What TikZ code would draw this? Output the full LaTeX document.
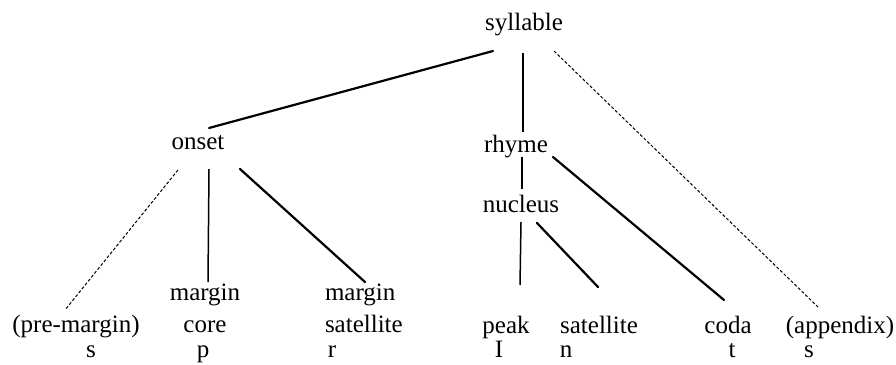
\documentclass[tikz,border=0pt]{standalone}
\usepackage{fontspec}
\setmainfont{Liberation Serif}
\begin{document}
\begin{tikzpicture}[x=1pt,y=-1pt,
  every node/.style={inner sep=0pt, outer sep=0pt, font=\fontsize{25}{32}\selectfont},
  lbl/.style={anchor=base},
  branch/.style={line width=2.2pt, line cap=round},
  stem/.style={line width=1.5pt},
  optional/.style={line width=1pt, dash pattern=on 3pt off 2pt}]
\useasboundingbox[fill=white] (0,0) rectangle (896,364);

% constituents
\node[lbl] (syl) at (524,30) {syllable};
\node[lbl] (ons) at (198,149) {onset};
\node[lbl] (rhy) at (516,152) {rhyme};
\node[lbl] (nuc) at (521,212) {nucleus};

% terminal positions
\node[lbl] (pre) at (76,332) {(pre-margin)};
\node[lbl] (mcore) at (205,300) {\begin{tabular}[t]{@{}c@{}}margin\\core\end{tabular}};
\node[anchor=base west] (msat) at (325,300) {\begin{tabular}[t]{@{}l@{}}margin\\satellite\end{tabular}};
\node[lbl] (peak) at (506,333) {peak};
\node[lbl] (sat) at (599,333) {satellite};
\node[lbl] (coda) at (728,333) {coda};
\node[lbl] (app) at (840,333) {(appendix)};

% segments
\node[lbl] (seg1) at (91,357) {s};
\node[lbl] (seg2) at (203,357) {p};
\node[lbl] (seg3) at (332,357) {r};
\node[lbl] (seg4) at (499,357) {I};
\node[lbl] (seg5) at (566,357) {n};
\node[lbl] (seg6) at (732,357) {t};
\node[lbl] (seg7) at (809,357) {s};

% branches
\draw[branch] ([shift={(-31,21)}]syl.base) -- ([shift={(11,-21)}]ons.base);
\draw[stem] ([shift={(-1,23)}]syl.base) -- ([shift={(7,-20)}]rhy.base);
\draw[optional] ([shift={(30,21)}]syl.base) -- ([shift={(-22,-26)}]app.base);
\draw[optional] ([shift={(-20,21)}]ons.base) -- ([shift={(-11,-22)}]pre.base);
\draw[stem] ([shift={(11,20)}]ons.base) -- ([shift={(3,-18)}]mcore.base);
\draw[branch] ([shift={(42,20)}]ons.base) -- ([shift={(40,-18)}]msat.base west);
\draw[stem] ([shift={(6,5)}]rhy.base) -- ([shift={(1,-23)}]nuc.base);
\draw[branch] ([shift={(37,5)}]rhy.base) -- ([shift={(-4,-33)}]coda.base);
\draw[stem] ([shift={(0,10)}]nuc.base) -- ([shift={(14,-48)}]peak.base);
\draw[branch] ([shift={(16,11)}]nuc.base) -- ([shift={(-1,-46)}]sat.base);
\end{tikzpicture}
\end{document}
